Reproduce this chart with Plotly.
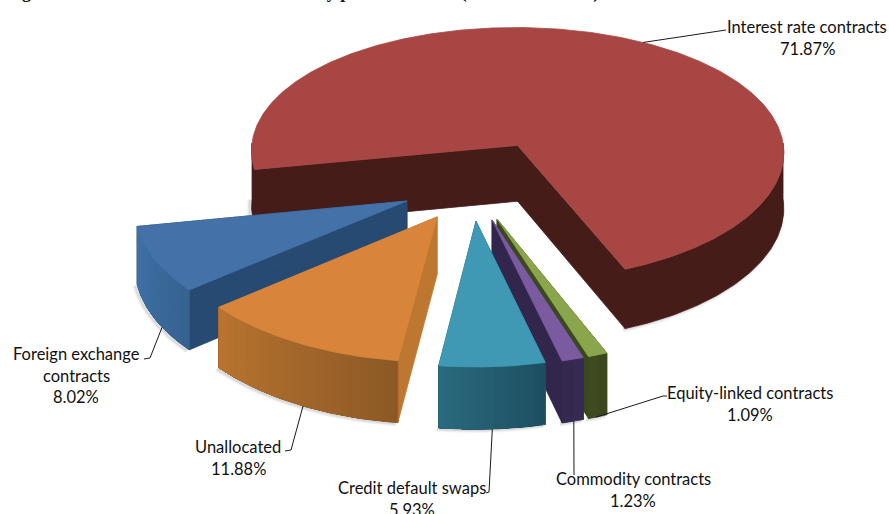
import numpy as np
import plotly.graph_objects as go

# Shares of the derivatives market by product, clockwise from the large slice
products = ["Interest rate contracts", "Equity-linked contracts", "Commodity contracts",
            "Credit default swaps", "Unallocated", "Foreign exchange contracts"]
shares = [71.87, 1.09, 1.23, 5.93, 11.88, 8.02]
label_lines = [["Interest rate contracts", "71.87%"],
               ["Equity-linked contracts", "1.09%"],
               ["Commodity contracts", "1.23%"],
               ["Credit default swaps", "5.93%"],
               ["Unallocated", "11.88%"],
               ["Foreign exchange", "contracts", "8.02%"]]

# Exploded-pie styling
explode = [0.36, 0.265, 0.265, 0.265, 0.265, 0.265]
top_colors = ["#A84644", "#8AA54B", "#7A5BA0", "#3F99B4", "#D9843B", "#4371A8"]
wall_left = ["#461C18", "#3F4A20", "#36294F", "#2A6A7E", "#B8742F", "#3F72A8"]
wall_right = ["#461C18", "#3D471E", "#352A52", "#1D4E60", "#8C5926", "#36628F"]
side_colors = ["#461C18", "#3B471D", "#33264D", "#1D4E60", "#BD7730", "#264A72"]
wall_bands = [1, 2, 2, 24, 40, 24]
first_angle = 259.1          # clockwise from north, where the first slice starts
draw_order = [0, 5, 4, 1, 2, 3]

# Label placement in page pixels: block centre, first row, elbow of the leader
label_centre = [(807, 27), (750, 393), (633, 479), (412, 488), (238, 447), (76, 354)]
leader_start = [(0.506, 0.0), (0.6, 1.0), (0.45, 1.0), (0.5, 1.0), (0.47, 1.0), (0.37, 1.0)]
leader_elbow = [[(722, 30), (726, 30)], [(663, 396), (667, 396)], [(574, 475)],
                [(489, 492), (486, 493)], [(291, 450), (285, 451)], [(150, 358), (144, 359)]]

# Projection of the pie plane on to the page
CX, CY, AX, BY, PERSP_X, PERSP_Y, DEPTH = 472, 186, 270, 131, 0.05, 0.067, 57


def project(u, v, level=0.0):
    v = np.asarray(v, dtype=float)
    wx = 1 / (1 - PERSP_X * v)
    wy = 1 / (1 - PERSP_Y * v)
    return CX + AX * np.asarray(u) * wx, CY + BY * v * wy + level * DEPTH * wy


def add_poly(fig, x, y, color, line=None, width=0.8, fill=True):
    fig.add_trace(go.Scatter(
        x=list(x), y=list(y), mode="lines",
        fill="toself" if fill else None,
        fillcolor=color if fill else None,
        line=dict(color=line or color, width=width, shape="linear"),
        hoverinfo="skip", showlegend=False))


fig = go.Figure()

spans = np.array(shares) / sum(shares) * 360
starts = first_angle + np.concatenate([[0], np.cumsum(spans)[:-1]])
ends = starts + spans
mids = np.radians((starts + ends) / 2)
apex_u = np.array(explode) * np.sin(mids)
apex_v = -np.array(explode) * np.cos(mids)


def rim(i, theta):
    t = np.radians(theta)
    return apex_u[i] + np.sin(t), apex_v[i] - np.cos(t)


def blend(c1, c2, f):
    a = [int(c1[k:k + 2], 16) for k in (1, 3, 5)]
    b = [int(c2[k:k + 2], 16) for k in (1, 3, 5)]
    return "rgb(%d,%d,%d)" % tuple(round(p + (q - p) * f) for p, q in zip(a, b))


for i in draw_order:
    theta = np.linspace(starts[i], ends[i], max(48, int(spans[i] * 1.5)))
    u, v = rim(i, theta)

    # The rim can face the viewer on two separate stretches, so walk each run on its own
    front = np.cos(np.radians(theta)) < 0.03
    vis = np.where(front)[0]
    runs = np.split(vis, np.where(np.diff(vis) > 1)[0] + 1)

    # Soft shadow under the lower rim
    for run in runs:
        bx, by = project(u[run], v[run], 1.0)
        for grow, alpha in ((6, 0.05), (4, 0.08), (2, 0.10)):
            add_poly(fig, bx - 2, by + 1, "rgba(90,90,90,%.2f)" % alpha, width=grow, fill=False)

    # Radial walls
    for edge in (0, -1):
        ru = np.array([apex_u[i], u[edge]])
        rv = np.array([apex_v[i], v[edge]])
        ex, ey = project(ru, rv)
        bex, bey = project(ru, rv, 1.0)
        add_poly(fig, [ex[0], ex[1], bex[1], bex[0], ex[0]],
                 [ey[0], ey[1], bey[1], bey[0], ey[0]], side_colors[i])

    # Outer wall: each band runs on to the end of the stretch and the next paints over it
    for run in runs:
        cuts = np.unique(np.linspace(0, len(run) - 1, wall_bands[i] + 1).astype(int))
        for n, a in enumerate(cuts[:-1]):
            idx = run[a:]
            tx, ty = project(u[idx], v[idx])
            lx, ly = project(u[idx], v[idx], 1.0)
            pos = 1 - n / max(1, len(cuts) - 2)
            shade = blend(wall_left[i], wall_right[i], pos)
            add_poly(fig, np.concatenate([tx, lx[::-1], tx[:1]]),
                     np.concatenate([ty, ly[::-1], ty[:1]]), shade,
                     width=0.8 if n == 0 else 0)

    # Top face
    fx, fy = project(np.concatenate([[apex_u[i]], u, [apex_u[i]]]),
                     np.concatenate([[apex_v[i]], v, [apex_v[i]]]))
    add_poly(fig, fx, fy, top_colors[i])

# Leader lines start on the rim of their slice and run to the label
for i in range(len(shares)):
    frac, level = leader_start[i]
    su, sv = rim(i, starts[i] + frac * spans[i])
    sx, sy = project(su, sv, level)
    pts = [(float(sx), float(sy))] + leader_elbow[i]
    add_poly(fig, [p[0] for p in pts], [p[1] for p in pts], "#1a1a1a", width=1, fill=False)

annotations = []
for lines, (cx, cy) in zip(label_lines, label_centre):
    for row, text in enumerate(lines):
        annotations.append(dict(x=cx, y=cy + row * 21.7, xref="x", yref="y", text=text,
                                showarrow=False, xanchor="center", yanchor="middle",
                                font=dict(family="Lato", size=16.5, color="#111111")))

# Heading sits across the page edge, so only its descenders show
annotations.append(dict(x=4 / 889, y=1 + 8 / 514, xref="paper", yref="paper", showarrow=False,
                        xanchor="left", yanchor="middle", align="left",
                        text="<b>Figure 1: Total OTC derivatives market by product classes (notional amount)</b>",
                        font=dict(family="Liberation Serif", size=18, color="#111111")))

fig.update_layout(
    width=889, height=514, margin=dict(l=0, r=0, t=0, b=0),
    paper_bgcolor="white", plot_bgcolor="white", showlegend=False,
    xaxis=dict(range=[0, 889], visible=False, fixedrange=True),
    yaxis=dict(range=[514, 0], visible=False, fixedrange=True),
    annotations=annotations)

fig.write_html("out.html")
